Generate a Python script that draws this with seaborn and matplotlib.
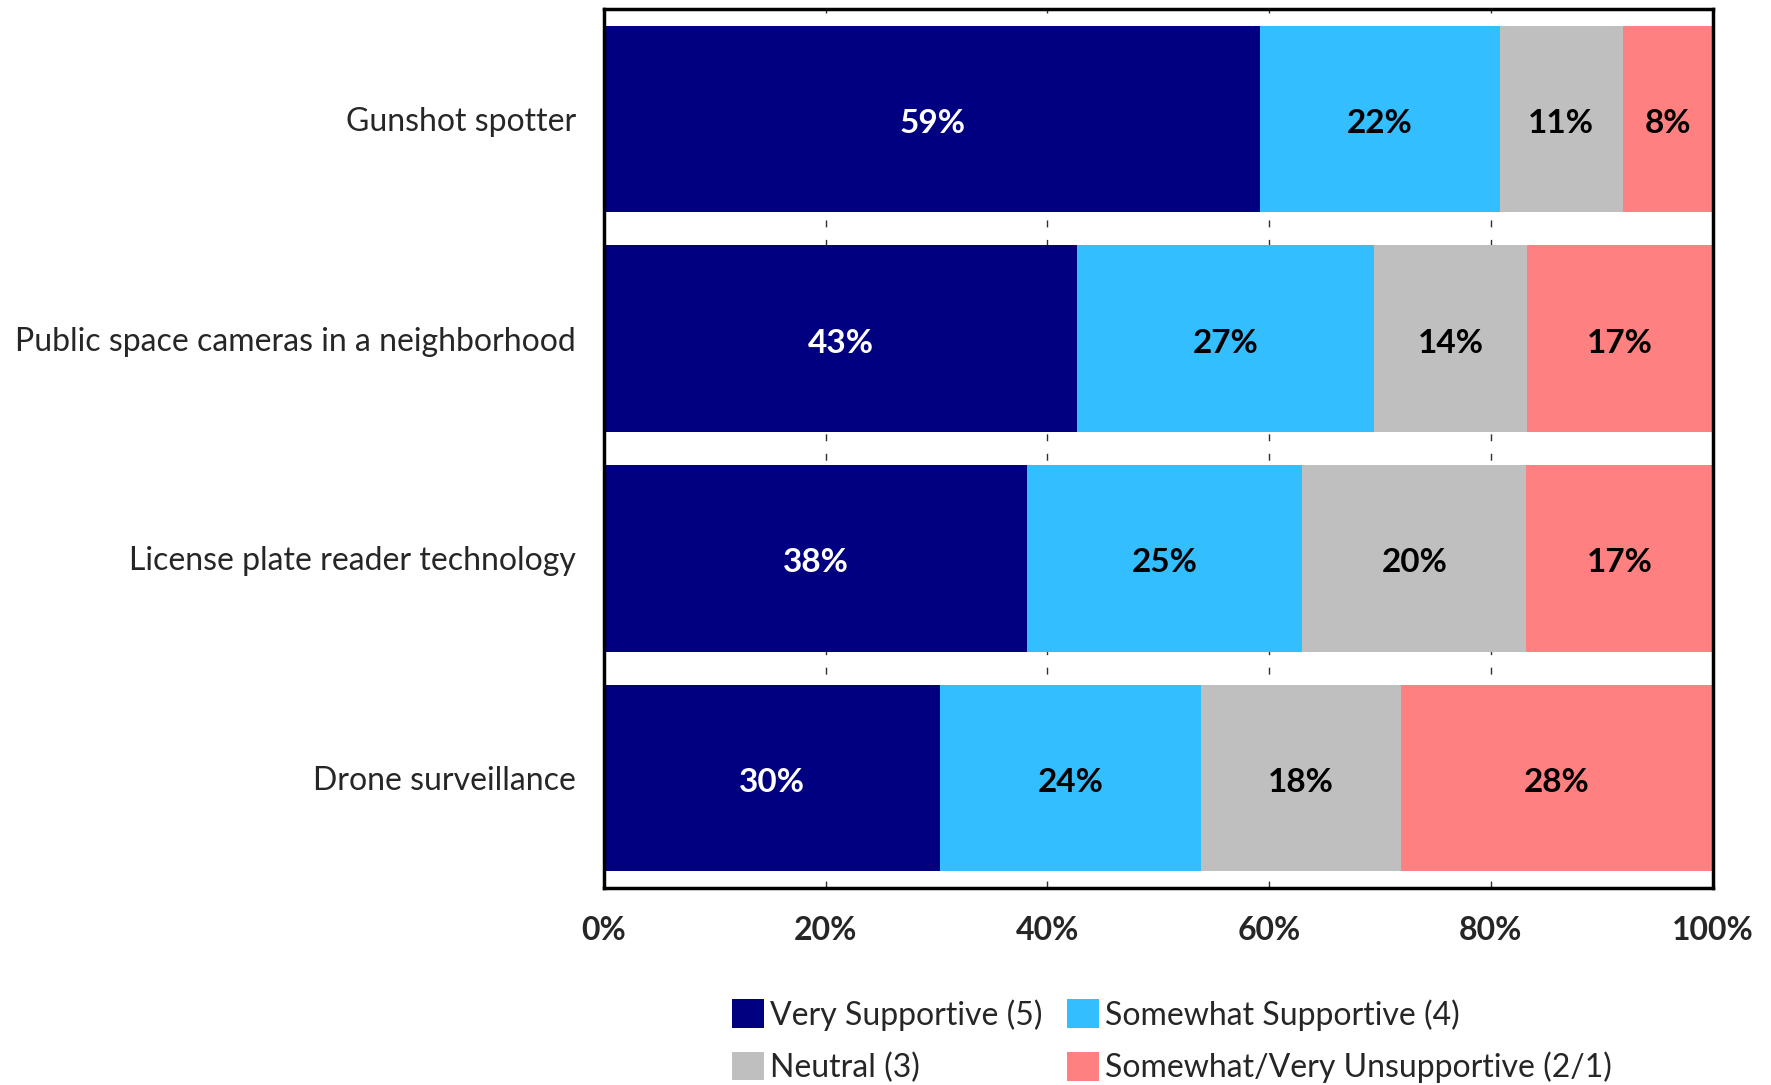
import matplotlib
matplotlib.use("Agg")
import matplotlib.pyplot as plt
from matplotlib.patches import Patch
import seaborn as sns
import pandas as pd
import numpy as np

# Survey results (percent of respondents)
items = [
    "Gunshot spotter",
    "Public space cameras in a neighborhood",
    "License plate reader technology",
    "Drone surveillance",
]
categories = [
    "Very Supportive (5)",
    "Somewhat Supportive (4)",
    "Neutral (3)",
    "Somewhat/Very Unsupportive (2/1)",
]
very_supportive = [59.2, 42.7, 38.2, 30.3]
somewhat_supportive = [21.6, 26.8, 24.8, 23.6]
neutral = [11.1, 13.8, 20.2, 18.0]
unsupportive = [8.1, 16.7, 16.8, 28.1]

colors = ["#000080", "#33BEFF", "#BFBFBF", "#FF8080"]
label_colors = ["white", "black", "black", "black"]

sns.set_theme(style="white")
plt.rcParams["font.family"] = ["Lato", "DejaVu Sans"]

series = [very_supportive, somewhat_supportive, neutral, unsupportive]
df = pd.DataFrame({c: v for c, v in zip(categories, series)}, index=items)
df.index.name = "item"
cum = df.cumsum(axis=1)

fig = plt.figure(figsize=(17.71, 10.85), dpi=100)
ax = fig.add_axes([0.341, 0.1816, 0.626, 0.81])

# Stacked bars: draw cumulative totals from the outermost segment inward
for cat, col in reversed(list(zip(categories, colors))):
    sns.barplot(
        x=cum[cat].values, y=items, orient="h", color=col,
        width=0.85, saturation=1, ax=ax, linewidth=0, zorder=2,
    )

# Segment labels
for i, item in enumerate(items):
    left = 0.0
    for cat, tc in zip(categories, label_colors):
        v = df.loc[item, cat]
        ax.text(left + v / 2, i + 0.02, f"{v:.0f}%", ha="center", va="center",
                color=tc, fontsize=24, fontweight="bold", zorder=3)
        left += v

ax.set_xlim(0, 100)
ax.set_ylim(3.5, -0.5)
ax.set_xticks([0, 20, 40, 60, 80, 100])
ax.set_xticklabels([f"{t}%" for t in [0, 20, 40, 60, 80, 100]],
                   fontsize=23, fontweight="bold")
ax.tick_params(axis="x", length=0, pad=20)
ax.tick_params(axis="y", length=0, pad=20, labelsize=23)
ax.set_xlabel("")
ax.set_ylabel("")

ax.xaxis.grid(True, color="#303030", linestyle=(0, (5, 9)), linewidth=1.0, zorder=0)
ax.yaxis.grid(False)
ax.set_axisbelow(True)
for s in ax.spines.values():
    s.set_visible(True)
    s.set_color("black")
    s.set_linewidth(2.5)

# Legend laid out row-wise: matplotlib fills columns first
order = [0, 2, 1, 3]
handles = [Patch(facecolor=colors[k], edgecolor="none") for k in order]
labels = [categories[k] for k in order]
fig.legend(handles, labels, loc="center left", bbox_to_anchor=(0.397, 0.0405),
           ncol=2, frameon=False, fontsize=23, handlelength=1.0, handleheight=1.0,
           handletextpad=0.18, columnspacing=0.78, labelspacing=0.66)

fig.savefig("out.png", dpi=100, facecolor="white")
